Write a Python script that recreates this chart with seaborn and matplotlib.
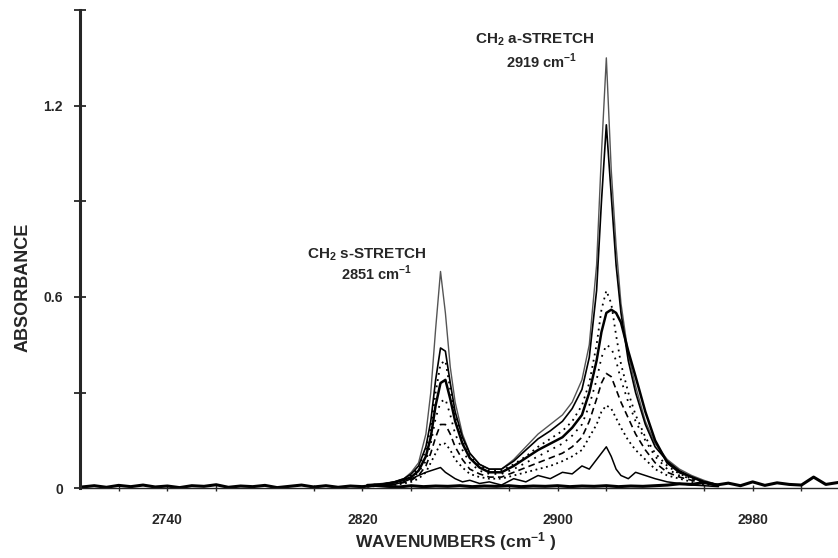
import matplotlib
matplotlib.use("Agg")
from matplotlib import pyplot as plt
from matplotlib.ticker import MultipleLocator
import numpy as np
import pandas as pd
import seaborn as sns

# noisy baseline (every 5 cm-1)
base_x = list(range(2705, 3016, 5))
base_y = [0.004, 0.008, 0.003, 0.009, 0.005, 0.010, 0.004, 0.007, 0.002, 0.008,
          0.006, 0.011, 0.003, 0.007, 0.005, 0.009, 0.002, 0.006, 0.010, 0.004,
          0.008, 0.003, 0.007, 0.005, 0.009, 0.006, 0.004, 0.008, 0.005, 0.007,
          0.006, 0.008, 0.005, 0.007, 0.006, 0.008, 0.005, 0.007, 0.006, 0.008,
          0.005, 0.007, 0.006, 0.008, 0.005, 0.007, 0.006, 0.008, 0.010, 0.014,
          0.012, 0.018, 0.010, 0.016, 0.008, 0.020, 0.009, 0.017, 0.012, 0.010,
          0.035, 0.012, 0.018]

# wavenumbers where the spectra were read
wn = [2822, 2828, 2833, 2837, 2840, 2843, 2846, 2848, 2850, 2852, 2854, 2856,
      2858, 2861, 2864, 2868, 2872, 2877, 2882, 2887, 2892, 2897, 2902, 2906,
      2910, 2913, 2916, 2918, 2920, 2922, 2924, 2926, 2929, 2932, 2936, 2940,
      2945, 2950, 2955, 2960, 2966]

spec1 = [0.010, 0.015, 0.020, 0.030, 0.050, 0.080, 0.170, 0.300, 0.500, 0.680,
         0.550, 0.380, 0.270, 0.170, 0.110, 0.075, 0.060, 0.060, 0.090, 0.130,
         0.170, 0.200, 0.230, 0.270, 0.340, 0.450, 0.700, 1.050, 1.350, 1.000,
         0.760, 0.580, 0.420, 0.320, 0.210, 0.140, 0.090, 0.060, 0.040, 0.025, 0.010]
spec2 = [0.010, 0.012, 0.020, 0.030, 0.045, 0.070, 0.130, 0.210, 0.340, 0.440,
         0.430, 0.330, 0.240, 0.160, 0.110, 0.075, 0.060, 0.060, 0.085, 0.120,
         0.155, 0.180, 0.210, 0.250, 0.310, 0.410, 0.620, 0.900, 1.140, 0.920,
         0.700, 0.550, 0.400, 0.300, 0.200, 0.130, 0.085, 0.055, 0.035, 0.020, 0.010]
spec3 = [0.010, 0.012, 0.018, 0.028, 0.040, 0.065, 0.120, 0.190, 0.300, 0.390,
         0.400, 0.310, 0.230, 0.150, 0.100, 0.070, 0.055, 0.055, 0.075, 0.100,
         0.130, 0.155, 0.180, 0.210, 0.260, 0.330, 0.450, 0.560, 0.620, 0.580,
         0.480, 0.390, 0.300, 0.230, 0.160, 0.110, 0.070, 0.045, 0.030, 0.020, 0.010]
spec4 = [0.010, 0.012, 0.018, 0.026, 0.035, 0.055, 0.100, 0.160, 0.260, 0.330,
         0.340, 0.280, 0.210, 0.140, 0.095, 0.065, 0.050, 0.050, 0.070, 0.095,
         0.120, 0.140, 0.160, 0.190, 0.230, 0.300, 0.400, 0.490, 0.550, 0.560,
         0.550, 0.520, 0.430, 0.350, 0.240, 0.150, 0.080, 0.050, 0.035, 0.020, 0.010]
spec5 = [0.010, 0.010, 0.015, 0.022, 0.030, 0.050, 0.085, 0.140, 0.220, 0.270,
         0.280, 0.230, 0.170, 0.120, 0.080, 0.055, 0.045, 0.045, 0.060, 0.080,
         0.100, 0.120, 0.140, 0.165, 0.200, 0.260, 0.340, 0.410, 0.450, 0.440,
         0.400, 0.340, 0.270, 0.210, 0.150, 0.100, 0.060, 0.040, 0.030, 0.020, 0.010]
spec6 = [0.010, 0.010, 0.012, 0.018, 0.025, 0.040, 0.070, 0.110, 0.160, 0.200,
         0.200, 0.170, 0.130, 0.090, 0.060, 0.045, 0.035, 0.035, 0.050, 0.065,
         0.080, 0.095, 0.110, 0.130, 0.160, 0.210, 0.280, 0.330, 0.360, 0.350,
         0.310, 0.270, 0.220, 0.170, 0.120, 0.080, 0.050, 0.035, 0.025, 0.015, 0.010]
spec7 = [0.005, 0.008, 0.010, 0.015, 0.020, 0.030, 0.050, 0.080, 0.110, 0.140,
         0.140, 0.120, 0.090, 0.065, 0.045, 0.035, 0.030, 0.030, 0.040, 0.050,
         0.060, 0.070, 0.085, 0.100, 0.120, 0.160, 0.200, 0.240, 0.260, 0.250,
         0.220, 0.190, 0.150, 0.120, 0.090, 0.060, 0.040, 0.030, 0.020, 0.012, 0.008]
spec8 = [0.005, 0.010, 0.012, 0.020, 0.030, 0.040, 0.050, 0.055, 0.060, 0.065,
         0.050, 0.040, 0.030, 0.020, 0.025, 0.015, 0.020, 0.010, 0.030, 0.020,
         0.040, 0.030, 0.050, 0.045, 0.070, 0.060, 0.090, 0.110, 0.130, 0.100,
         0.060, 0.040, 0.030, 0.050, 0.040, 0.030, 0.020, 0.015, 0.010, 0.008, 0.005]

spectra = [spec1, spec2, spec3, spec4, spec5, spec6, spec7, spec8]
styles = ["-", "-", (0, (1, 2.5)), "-", (0, (1, 3)), (0, (4, 2.5)), (0, (1, 2)), "-"]
widths = [1.0, 1.2, 1.3, 1.8, 1.3, 1.2, 1.3, 1.1]
colors = ["#555555", "black", "black", "black", "black", "black", "black", "black"]

sns.set_style("ticks")
plt.rcParams["font.family"] = ["Liberation Sans", "DejaVu Sans"]
plt.rcParams["mathtext.fontset"] = "custom"
plt.rcParams["mathtext.rm"] = "Liberation Sans"
plt.rcParams["mathtext.bf"] = "Liberation Sans:bold"

fig = plt.figure(figsize=(8.38, 5.58), dpi=100)
ax = fig.add_axes([0.095, 0.125, 0.905, 0.857])

sns.lineplot(x=base_x, y=base_y, ax=ax, color="black", linewidth=2.2)
for s, ls, lw, c in zip(spectra, styles, widths, colors):
    sns.lineplot(x=wn, y=s, ax=ax, color=c, linestyle=ls, linewidth=lw)

ax.set_xlim(2704, 3015)
ax.set_ylim(0, 1.5)
ax.set_xticks([2740, 2820, 2900, 2980])
ax.xaxis.set_minor_locator(MultipleLocator(40))
ax.set_yticks([0, 0.6, 1.2])
ax.set_yticklabels(["0", "0.6", "1.2"])
ax.yaxis.set_minor_locator(MultipleLocator(0.3))
ax.tick_params(axis="y", which="both", direction="inout", length=8, width=1.3,
               labelsize=10, pad=8)
ax.tick_params(axis="x", which="both", direction="inout", length=5, width=1,
               labelsize=10, pad=15)
for lab in ax.get_xticklabels() + ax.get_yticklabels():
    lab.set_fontweight("bold")

sns.despine(ax=ax)
ax.spines["left"].set_linewidth(2.2)
ax.spines["bottom"].set_linewidth(1.0)

ax.set_ylabel("ABSORBANCE", fontsize=13, fontweight="bold")
ax.yaxis.set_label_coords(-0.064, 0.42)
ax.set_xlabel(r"WAVENUMBERS (cm$\mathbf{^{-1}}$ )", fontsize=12.5, fontweight="bold")
ax.xaxis.set_label_coords(0.496, -0.088)

ax.text(2821.6, 0.734, r"CH$_{\mathbf{2}}$ s-STRETCH", ha="center", va="center",
        fontsize=11, fontweight="bold")
ax.text(2825.7, 0.675, r"2851 cm$^{\mathbf{-1}}$", ha="center", va="center",
        fontsize=10.5, fontweight="bold")
ax.text(2890.8, 1.406, r"CH$_{\mathbf{2}}$ a-STRETCH", ha="center", va="center",
        fontsize=11, fontweight="bold")
ax.text(2893.6, 1.34, r"2919 cm$^{\mathbf{-1}}$", ha="center", va="center",
        fontsize=10.5, fontweight="bold")

fig.savefig("out.png", dpi=100)
